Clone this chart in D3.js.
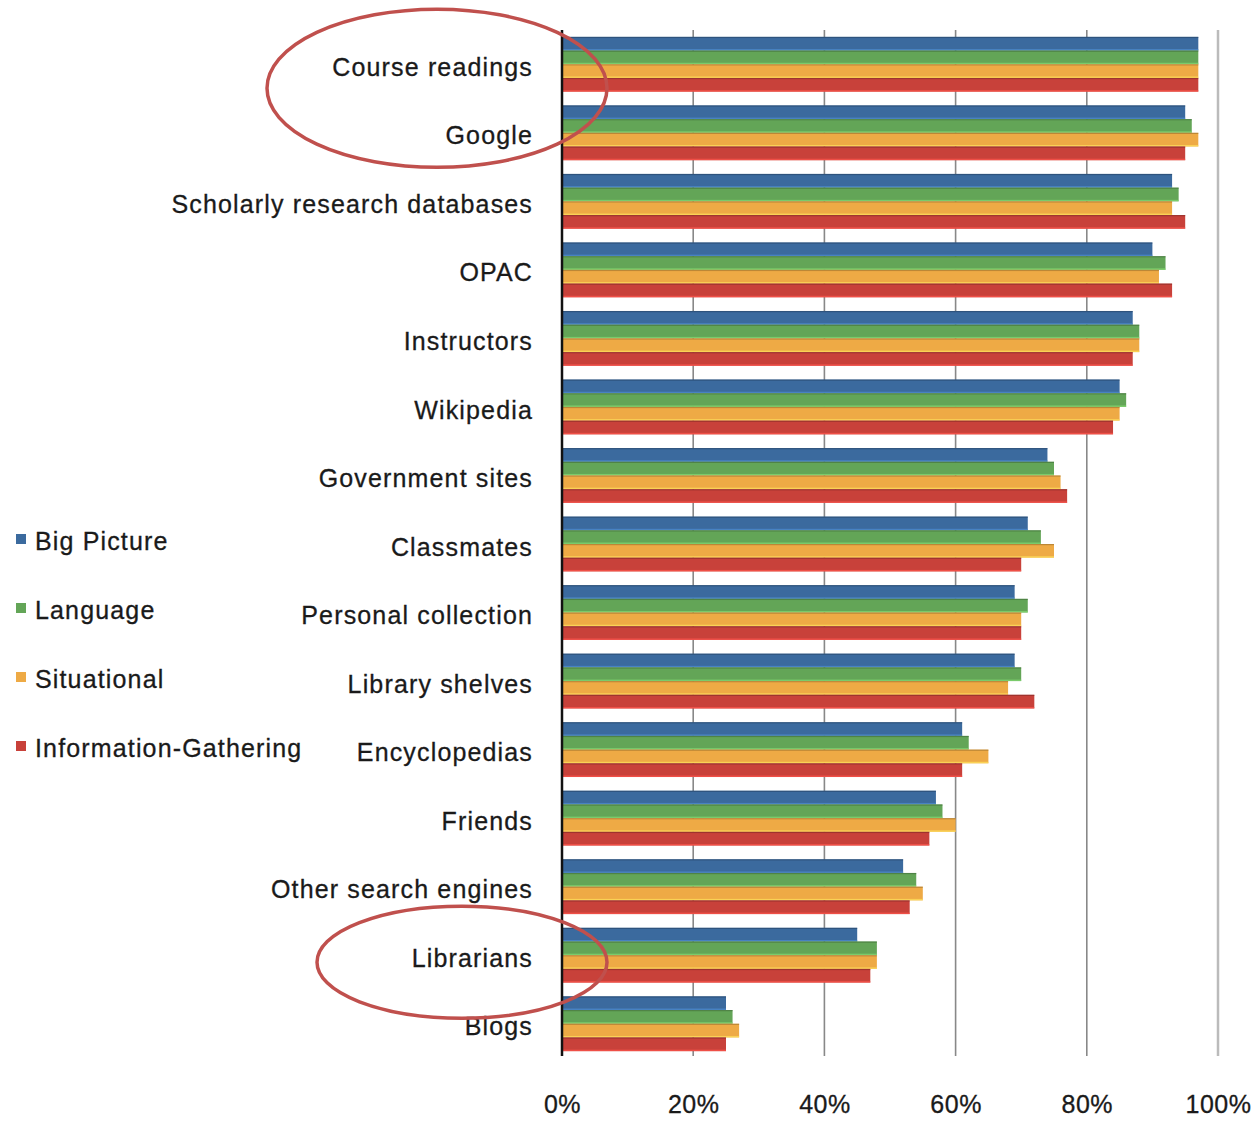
<!DOCTYPE html>
<html>
<head>
<meta charset="utf-8">
<script src="https://cdn.jsdelivr.net/npm/d3@7"></script>
<style>
  html, body { margin: 0; padding: 0; background: #fff; }
  svg { display: block; }
  text { font-family: "Liberation Sans", Arial, Helvetica, sans-serif; fill: #1a1a1a; }
</style>
</head>
<body>
<svg id="chart" width="1257" height="1122"></svg>
<script>
const categories = ["Course readings","Google","Scholarly research databases","OPAC","Instructors","Wikipedia","Government sites","Classmates","Personal collection","Library shelves","Encyclopedias","Friends","Other search engines","Librarians","Blogs"];
const seriesNames = ["Big Picture","Language","Situational","Information-Gathering"];
const bigPicture = [97,95,93,90,87,85,74,71,69,69,61,57,52,45,25];
const language   = [97,96,94,92,88,86,75,73,71,70,62,58,54,48,26];
const situational= [97,97,93,91,88,85,76,75,70,68,65,60,55,48,27];
const infoGathering=[97,95,95,93,87,84,77,70,70,72,61,56,53,47,25];
const tickValues = [0,20,40,60,80,100];
const highlighted = ["Course readings","Librarians"];
const colors = ["#3b6a9e","#63a557","#eeaa45","#c8413a"];

const seriesData = [bigPicture, language, situational, infoGathering];
const svg = d3.select("#chart");

const x = d3.scaleLinear().domain([0,100]).range([562,1218]);
const y = d3.scaleBand().domain(categories).range([30,1058]).paddingInner(0.2).paddingOuter(0.1);
const yi = d3.scaleBand().domain(seriesNames).range([0, y.bandwidth()]);
const color = d3.scaleOrdinal().domain(seriesNames).range(colors);

// grid lines
const gridTop = 30, gridBottom = 1056;
svg.append("g").selectAll("line").data(tickValues.filter(v => v > 0)).join("line")
  .attr("x1", d => x(d)).attr("x2", d => x(d))
  .attr("y1", gridTop).attr("y2", gridBottom)
  .attr("stroke", d => d === 100 ? "#bbb" : "#888")
  .attr("stroke-width", d => d === 100 ? 2.5 : 1.6);

// bars
const groups = svg.append("g").selectAll("g").data(categories).join("g")
  .attr("transform", c => `translate(0,${y(c)})`);
groups.each(function(c, ci){
  const g = d3.select(this);
  seriesNames.forEach((s, si) => {
    const v = seriesData[si][ci];
    const base = d3.color(color(s));
    g.append("rect")
      .attr("x", x(0)).attr("y", yi(s))
      .attr("width", x(v) - x(0)).attr("height", yi.bandwidth())
      .attr("fill", base);
    g.append("rect")
      .attr("x", x(0)).attr("y", yi(s))
      .attr("width", x(v) - x(0)).attr("height", 1.2)
      .attr("fill", base.darker(1.2)).attr("opacity", 0.6);
    g.append("rect")
      .attr("x", x(0)).attr("y", yi(s) + yi.bandwidth() - 1.5)
      .attr("width", x(v) - x(0)).attr("height", 1.5)
      .attr("fill", base.brighter(0.8)).attr("opacity", 0.7);
  });
});

// axis line at 0
svg.append("line")
  .attr("x1", x(0)).attr("x2", x(0))
  .attr("y1", gridTop).attr("y2", gridBottom)
  .attr("stroke", "#111").attr("stroke-width", 2.5);

// category labels
svg.append("g").selectAll("text").data(categories).join("text")
  .attr("x", 533)
  .attr("y", c => y(c) + y.bandwidth()/2 + 5)
  .attr("text-anchor", "end")
  .attr("dominant-baseline", "middle")
  .attr("font-size", 25)
  .attr("letter-spacing", 1.15)
  .attr("stroke", "#1a1a1a").attr("stroke-width", 0.3)
  .text(c => c);

// x tick labels
const xAxis = d3.axisBottom(x).tickValues(tickValues).tickFormat(d => d + "%").tickSize(0).tickPadding(0);
const xa = svg.append("g").attr("transform", "translate(0,1095)").call(xAxis);
xa.select(".domain").remove();
xa.selectAll("text").attr("font-size", 25).attr("fill", "#1a1a1a")
  .attr("letter-spacing", 0.5)
  .attr("stroke", "#1a1a1a").attr("stroke-width", 0.3)
  .attr("font-family", "'Liberation Sans', Arial, sans-serif");

// legend
const legendY = d3.scalePoint().domain(seriesNames).range([542, 749]);
const lg = svg.append("g").selectAll("g").data(seriesNames).join("g")
  .attr("transform", s => `translate(0,${legendY(s)})`);
lg.append("rect").attr("x", 16).attr("y", -8).attr("width", 10).attr("height", 10).attr("fill", s => color(s));
lg.append("text").attr("x", 35).attr("y", 1).attr("dominant-baseline", "middle")
  .attr("font-size", 25).attr("letter-spacing", 1.15)
  .attr("stroke", "#1a1a1a").attr("stroke-width", 0.3)
  .text(s => s);

// annotation ellipses around highlighted categories
const ell = [
  {c: highlighted[0], cx: 437, dy: 24, rx: 170, ry: 79},
  {c: highlighted[1], cx: 462, dy: 7, rx: 145, ry: 56}
];
svg.append("g").selectAll("ellipse").data(ell).join("ellipse")
  .attr("cx", d => d.cx)
  .attr("cy", d => y(d.c) + y.bandwidth()/2 + d.dy)
  .attr("rx", d => d.rx).attr("ry", d => d.ry)
  .attr("fill", "none").attr("stroke", "#c0504d").attr("stroke-width", 3.5);
</script>
</body>
</html>
